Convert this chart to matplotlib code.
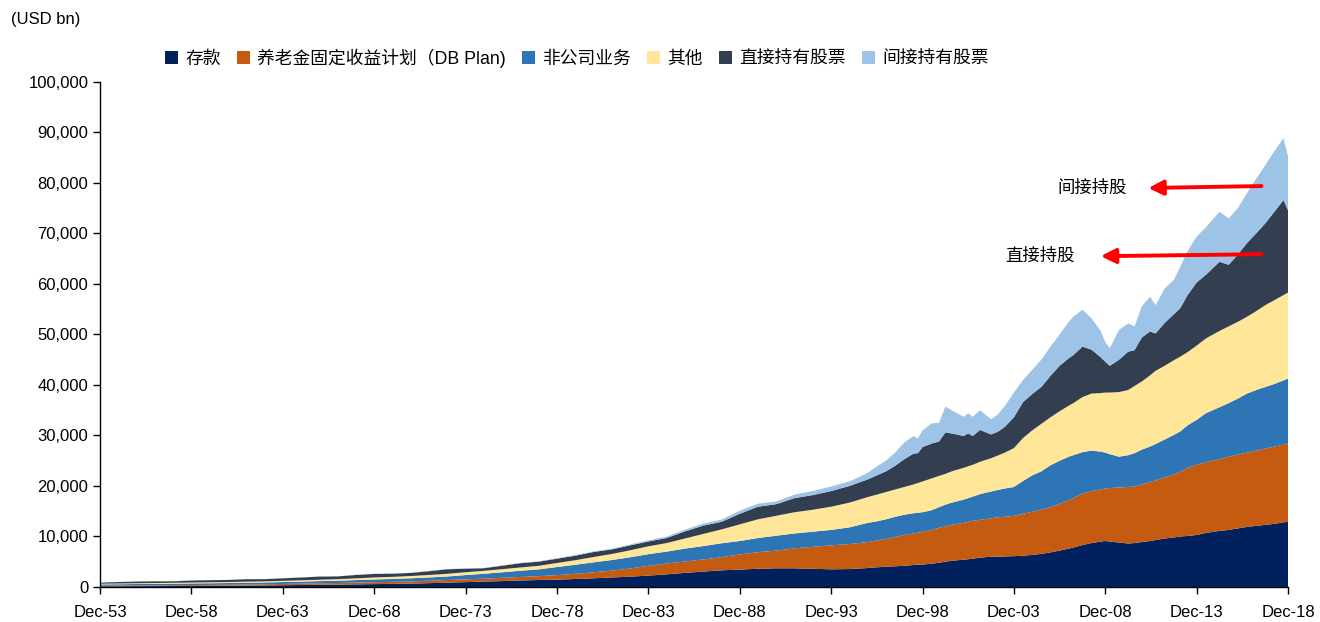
import numpy as np
import matplotlib
matplotlib.use("Agg")
import matplotlib.pyplot as plt
from matplotlib.patches import Patch
from matplotlib.ticker import FuncFormatter, MultipleLocator

plt.rcParams['font.family'] = ['Liberation Sans', 'Noto Sans CJK SC', 'DejaVu Sans']

# time axis: t = YYYY means Dec of that year; annual to 1994, then finer
dates = list(range(1953, 1995)) + [
    1995.0, 1995.5, 1996.0, 1996.5, 1997.0, 1997.5, 1997.75, 1998.0, 1998.5, 1998.9,
    1999.25, 1999.6, 2000.25, 2000.5, 2000.75, 2001.15, 2001.75, 2002.1, 2002.5, 2003.0,
    2003.5, 2004.0, 2004.5, 2005.0, 2005.5, 2006.0, 2006.25, 2006.75, 2007.25, 2007.75,
    2008.0, 2008.25, 2008.75, 2009.25, 2009.6, 2010.0, 2010.45, 2010.75, 2011.25, 2011.75,
    2012.1, 2012.5, 2013.0, 2013.5, 2014.25, 2014.75, 2015.25, 2015.75, 2016.25, 2016.75,
    2017.25, 2017.75, 2018.0]

# values in USD trn (x1000 -> USD bn when drawn)
deposits = [
    .13, .14, .16, .17, .19, .21, .23, .25, .28, .31, .35, .39, .43, .47, .52, .57, .61, .67, .76, .86,
    .96, 1.06, 1.17, 1.29, 1.38, 1.45, 1.58, 1.72, 1.88, 2.04, 2.25, 2.50, 2.80, 3.05, 3.30, 3.45,
    3.60, 3.70, 3.70, 3.60, 3.50, 3.55,
    3.75, 3.9, 4.0, 4.1, 4.2, 4.35, 4.4, 4.45, 4.6, 4.8, 5.0, 5.2, 5.4, 5.5, 5.6, 5.8, 6.0, 6.0, 6.05, 6.1,
    6.2, 6.35, 6.55, 6.85, 7.2, 7.6, 7.8, 8.3, 8.7, 9.0, 9.1, 9.0, 8.8, 8.6, 8.7, 8.9, 9.1, 9.3, 9.6, 9.8,
    10.0, 10.1, 10.3, 10.7, 11.1, 11.3, 11.6, 11.9, 12.1, 12.3, 12.5, 12.8, 12.9]
db_plan = [
    .12, .13, .14, .15, .16, .17, .18, .19, .21, .22, .25, .27, .30, .32, .35, .38, .40, .43, .47, .52,
    .56, .58, .64, .70, .76, .90, 1.02, 1.18, 1.36, 1.62, 1.95, 2.15, 2.25, 2.40, 2.60, 3.00,
    3.30, 3.50, 3.95, 4.35, 4.75, 4.95,
    5.15, 5.3, 5.5, 5.8, 6.1, 6.25, 6.35, 6.45, 6.7, 6.9, 7.0, 7.1, 7.3, 7.4, 7.5, 7.5, 7.6, 7.8, 7.85, 8.0,
    8.3, 8.55, 8.75, 8.95, 9.3, 9.6, 9.8, 10.2, 10.3, 10.3, 10.4, 10.6, 10.9, 11.2, 11.2, 11.4, 11.7, 11.8,
    12.1, 12.5, 12.8, 13.5, 13.9, 14.0, 14.2, 14.5, 14.6, 14.7, 14.9, 15.1, 15.3, 15.4, 15.5]
noncorp = [
    .27, .28, .29, .30, .31, .32, .33, .34, .35, .36, .38, .40, .43, .46, .50, .54, .58, .62, .66, .70,
    .84, .98, 1.10, 1.22, 1.35, 1.60, 1.80, 1.98, 2.10, 2.22, 2.30, 2.35, 2.55, 2.65, 2.75, 2.65,
    2.80, 2.95, 2.95, 3.00, 3.05, 3.30,
    3.8, 3.8, 3.9, 4.0, 4.0, 4.0, 3.95, 3.9, 3.9, 4.1, 4.3, 4.4, 4.6, 4.7, 4.8, 5.1, 5.3, 5.4, 5.6, 5.7,
    6.5, 7.2, 7.6, 8.3, 8.5, 8.6, 8.5, 8.2, 8.0, 7.5, 7.1, 6.7, 6.1, 6.3, 6.6, 6.9, 7.0, 7.2, 7.5, 7.8,
    8.0, 8.4, 8.9, 9.7, 10.3, 10.6, 11.1, 11.7, 12.0, 12.2, 12.4, 12.7, 12.9]
other = [
    .13, .14, .15, .16, .17, .18, .19, .20, .21, .22, .24, .26, .28, .30, .33, .40, .42, .45, .49, .53,
    .56, .58, .62, .66, .70, .80, .90, 1.05, 1.20, 1.38, 1.55, 1.70, 2.00, 2.40, 2.75, 3.30,
    3.70, 3.95, 4.20, 4.35, 4.60, 4.90,
    5.1, 5.3, 5.4, 5.4, 5.5, 5.7, 5.9, 6.1, 6.3, 6.2, 6.1, 6.2, 6.3, 6.3, 6.3, 6.4, 6.6, 6.8, 7.1, 7.7,
    8.5, 8.9, 9.4, 9.5, 9.8, 10.1, 10.3, 10.9, 11.3, 11.6, 11.9, 12.2, 12.8, 12.9, 13.3, 13.5, 14.1, 14.5,
    14.6, 14.8, 14.8, 14.5, 14.7, 14.8, 15.1, 15.2, 15.2, 15.2, 15.6, 16.2, 16.6, 16.9, 17.0]
direct_eq = [
    .21, .29, .34, .34, .30, .40, .42, .41, .50, .44, .50, .56, .62, .55, .68, .70, .62, .62, .75, .90,
    .70, .52, .68, .84, .82, .85, .90, 1.00, .90, .98, .95, 1.00, 1.40, 1.65, 1.50, 2.10,
    2.50, 2.30, 2.80, 2.90, 3.10, 3.30,
    3.5, 3.8, 4.1, 4.7, 5.5, 6.1, 5.9, 6.8, 6.9, 6.8, 8.2, 7.5, 6.3, 6.5, 5.7, 6.3, 4.7, 4.7, 5.1, 6.1,
    7.1, 7.2, 7.3, 8.2, 9.0, 9.4, 9.5, 10.0, 8.7, 7.1, 6.1, 5.3, 6.4, 7.6, 7.1, 8.7, 8.7, 7.4, 8.5, 9.1,
    9.6, 11.3, 12.5, 12.6, 13.7, 12.2, 13.3, 14.6, 15.4, 16.2, 17.5, 18.8, 16.3]
indirect_eq = [
    .01, .01, .01, .01, .01, .01, .01, .01, .02, .02, .02, .02, .02, .02, .03, .03, .03, .03, .04, .05,
    .05, .05, .06, .07, .08, .09, .10, .12, .14, .18, .25, .25, .35, .40, .45, .60,
    .60, .55, .70, .80, .90, .90,
    1.3, 1.8, 2.1, 2.6, 3.3, 3.5, 2.9, 3.3, 4.0, 3.7, 5.1, 4.6, 3.8, 4.0, 3.8, 3.9, 3.0, 3.4, 4.1, 4.9,
    4.4, 4.8, 5.4, 5.8, 6.2, 7.2, 7.6, 7.3, 6.2, 5.2, 3.9, 3.5, 5.9, 5.6, 4.7, 6.2, 6.9, 5.6, 6.8, 6.8,
    8.2, 8.7, 9.1, 9.4, 9.9, 9.2, 9.2, 9.9, 10.8, 11.5, 12.0, 12.3, 10.6]

labels = ["存款", "养老金固定收益计划（DB Plan)", "非公司业务", "其他", "直接持有股票", "间接持有股票"]
colors = ["#00215E", "#C55A11", "#2E75B6", "#FFE699", "#333F50", "#9DC3E6"]
tick_years = list(range(1953, 2019, 5))

###############################################################################

fig = plt.figure(figsize=(13.2, 6.22), dpi=100)
ax = fig.add_axes([0.0758, 0.0563, 0.9, 0.8119])

series = np.array([deposits, db_plan, noncorp, other, direct_eq, indirect_eq]) * 1000
ax.stackplot(dates, series, colors=colors, linewidth=0)

ax.set_xlim(1953, 2018)
ax.set_ylim(0, 100000)
ax.yaxis.set_major_locator(MultipleLocator(10000))
ax.yaxis.set_major_formatter(FuncFormatter(lambda v, p: f"{int(v):,}"))
ax.set_xticks(tick_years)
ax.set_xticklabels([f"Dec-{y % 100:02d}" for y in tick_years])
ax.tick_params(labelsize=12, direction="out", length=5, width=1, colors="#000000")
ax.tick_params(axis="x", pad=8)
for s in ("top", "right"):
    ax.spines[s].set_visible(False)
for s in ("left", "bottom"):
    ax.spines[s].set_linewidth(1)

fig.text(0.008, 0.968, "(USD bn)", fontsize=12, ha="left", va="center")

handles = [Patch(facecolor=c, edgecolor="none") for c in colors]
fig.legend(handles, labels, loc="center", bbox_to_anchor=(0.437, 0.907), ncol=6,
           frameon=False, fontsize=12.8, handlelength=0.75, handleheight=0.75,
           handletextpad=0.4, columnspacing=0.9)

# red arrows pointing at the two equity layers
arrow = dict(arrowstyle="-|>", color="red", lw=2.8, mutation_scale=22)
ax.annotate("", xy=(2010.2, 79000), xytext=(2016.7, 79400), arrowprops=arrow)
ax.annotate("", xy=(2007.6, 65500), xytext=(2016.7, 65900), arrowprops=arrow)
ax.text(2007.3, 79000, "间接持股", fontsize=12.5, ha="center", va="center")
ax.text(2004.4, 65700, "直接持股", fontsize=12.5, ha="center", va="center")

fig.savefig("out.png", dpi=100)
